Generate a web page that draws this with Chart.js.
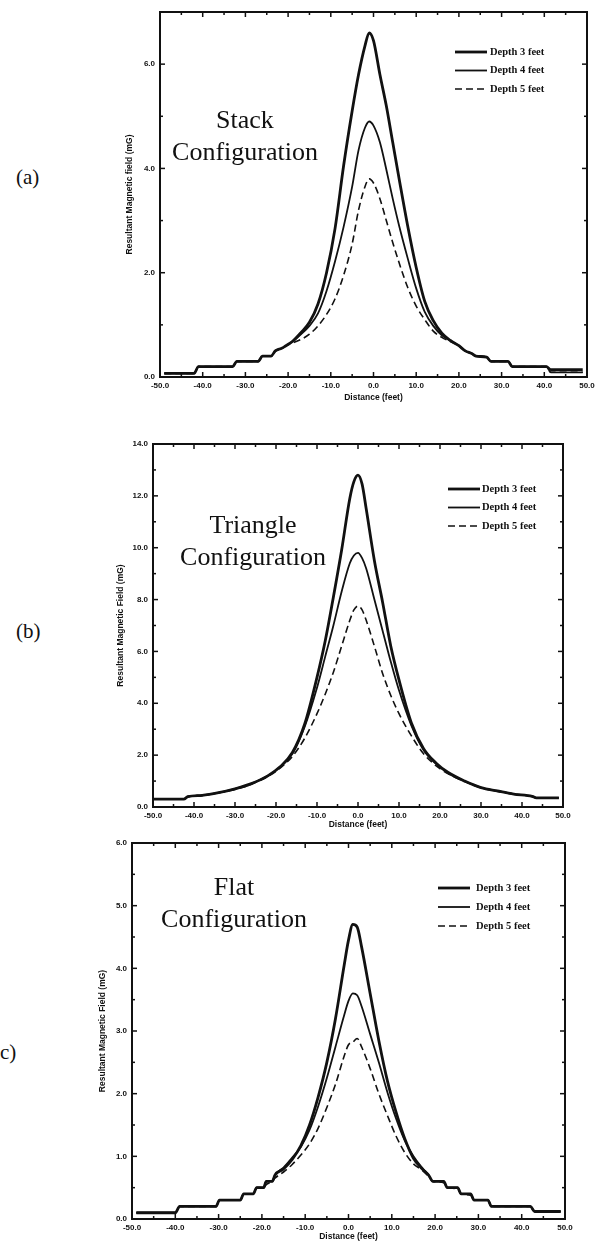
<!DOCTYPE html>
<html>
<head>
<meta charset="utf-8">
<script src="https://cdn.jsdelivr.net/npm/chart.js@4.4.0/dist/chart.umd.min.js"></script>
<style>
  body { margin: 0; background: #fff; width: 606px; height: 1243px; position: relative; overflow: hidden; }
  canvas { position: absolute; }
  .cfg { position: absolute; width: 220px; text-align: center; font-family: "Liberation Serif", serif; font-size: 26px; line-height: 32px; color: #111; }
  .panel { position: absolute; font-family: "Liberation Serif", serif; font-size: 21px; line-height: 24px; color: #111; }
</style>
</head>
<body>
<canvas id="chartA" width="511" height="412" style="left:95px;top:0px"></canvas>
<canvas id="chartB" width="500" height="420" style="left:90px;top:418px"></canvas>
<canvas id="chartC" width="500" height="411" style="left:90px;top:832px"></canvas>

<div class="panel" style="left:16px;top:165px">(a)</div>
<div class="panel" style="left:16px;top:619px">(b)</div>
<div class="panel" style="left:-7px;top:1040px">(c)</div>

<div class="cfg" style="left:135px;top:104px">Stack<br>Configuration</div>
<div class="cfg" style="left:143px;top:509px">Triangle<br>Configuration</div>
<div class="cfg" style="left:124px;top:871px">Flat<br>Configuration</div>

<script>
// shared
const distTicks = [-50, -40, -30, -20, -10, 0, 10, 20, 30, 40, 50];
const seriesNames = ['Depth 3 feet', 'Depth 4 feet', 'Depth 5 feet'];

// (a) Stack configuration
const distA = [-49, -42, -41, -33, -32, -27, -26, -24, -23, -21.5, -20.5, -19, -17, -15, -13, -11, -9, -7, -5, -3.5,
  -2, -1, 0, 1.5, 3, 4.5, 6, 8, 10, 12, 14, 16, 18, 20, 21.5, 23, 24, 26.5, 27.5, 31.5, 32.5, 40.5, 41.5, 49];
const depth3A = [0.07, 0.07, 0.2, 0.2, 0.3, 0.3, 0.4, 0.4, 0.5, 0.55, 0.6, 0.68, 0.85, 1.05, 1.4, 2.0, 2.85, 4.05, 5.1, 5.8,
  6.35, 6.6, 6.45, 5.8, 5.2, 4.5, 3.8, 2.9, 2.1, 1.45, 1.08, 0.84, 0.7, 0.6, 0.5, 0.45, 0.4, 0.38, 0.3, 0.3, 0.2, 0.2, 0.14, 0.14];
const depth4A = [0.07, 0.07, 0.2, 0.2, 0.3, 0.3, 0.4, 0.4, 0.5, 0.55, 0.6, 0.68, 0.82, 0.98, 1.22, 1.65, 2.22, 2.88, 3.65, 4.35,
  4.78, 4.9, 4.82, 4.5, 3.98, 3.42, 2.9, 2.28, 1.7, 1.25, 0.98, 0.8, 0.7, 0.6, 0.5, 0.45, 0.4, 0.38, 0.3, 0.3, 0.2, 0.2, 0.09, 0.09];
const depth5A = [0.07, 0.07, 0.2, 0.2, 0.3, 0.3, 0.4, 0.4, 0.5, 0.55, 0.6, 0.65, 0.72, 0.82, 0.98, 1.2, 1.5, 1.95, 2.55, 3.2,
  3.65, 3.8, 3.72, 3.42, 3.0, 2.58, 2.19, 1.72, 1.36, 1.1, 0.88, 0.76, 0.68, 0.6, 0.5, 0.45, 0.4, 0.38, 0.3, 0.3, 0.2, 0.2, 0.09, 0.09];
const ticksA = [0, 2, 4, 6];

// (b) Triangle configuration
const distB = [-50, -42.5, -41.5, -38, -34, -30, -26, -22, -19, -16, -13, -10, -8, -6, -4, -2, -1, 0, 1, 2,
  4, 6, 8, 10, 13, 16, 19, 22, 26, 30, 34, 38, 42.5, 43.5, 49];
const depth3B = [0.3, 0.3, 0.4, 0.45, 0.55, 0.7, 0.9, 1.2, 1.55, 2.1, 3.2, 5.0, 6.4, 8.1, 9.9, 11.9, 12.55, 12.8, 12.45, 11.5,
  9.5, 7.9, 6.2, 4.9, 3.25, 2.25, 1.7, 1.33, 1.0, 0.75, 0.62, 0.5, 0.41, 0.35, 0.35];
const depth4B = [0.3, 0.3, 0.4, 0.45, 0.55, 0.7, 0.9, 1.2, 1.55, 2.05, 3.1, 4.6, 5.8, 7.0, 8.3, 9.4, 9.7, 9.8, 9.6, 9.2,
  8.0, 6.8, 5.6, 4.5, 3.15, 2.2, 1.67, 1.3, 1.0, 0.75, 0.62, 0.5, 0.41, 0.35, 0.35];
const depth5B = [0.3, 0.3, 0.4, 0.45, 0.55, 0.68, 0.88, 1.18, 1.5, 1.95, 2.65, 3.6, 4.35, 5.2, 6.2, 7.2, 7.6, 7.75, 7.6, 7.2,
  6.2, 5.15, 4.3, 3.6, 2.75, 2.05, 1.6, 1.28, 0.98, 0.74, 0.6, 0.5, 0.41, 0.35, 0.35];
const ticksB = [0, 2, 4, 6, 8, 10, 12, 14];

// (c) Flat configuration
const distC = [-49, -40, -39, -30.6, -29.8, -25, -24.2, -22, -21.2, -19.6, -19, -17.6, -17, -15, -13, -11, -9, -7, -5, -3,
  -1, 0, 1, 2, 3, 5, 7, 9, 11, 13, 15, 17, 18.5, 19.5, 22, 22.8, 25.2, 26, 28.2, 29, 32.2, 33, 42, 43, 49];
const depth3C = [0.1, 0.1, 0.2, 0.2, 0.3, 0.3, 0.4, 0.4, 0.5, 0.5, 0.6, 0.6, 0.7, 0.8, 0.95, 1.17, 1.5, 1.95, 2.5, 3.2,
  4.05, 4.45, 4.7, 4.66, 4.35, 3.6, 2.85, 2.2, 1.7, 1.28, 0.97, 0.8, 0.7, 0.6, 0.6, 0.5, 0.5, 0.4, 0.4, 0.3, 0.3, 0.2, 0.2, 0.12, 0.12];
const depth4C = [0.1, 0.1, 0.2, 0.2, 0.3, 0.3, 0.4, 0.4, 0.5, 0.5, 0.6, 0.6, 0.7, 0.82, 0.98, 1.15, 1.42, 1.8, 2.25, 2.75,
  3.25, 3.48, 3.6, 3.57, 3.4, 2.95, 2.5, 2.02, 1.6, 1.25, 1.0, 0.82, 0.7, 0.6, 0.6, 0.5, 0.5, 0.4, 0.4, 0.3, 0.3, 0.2, 0.2, 0.12, 0.12];
const depth5C = [0.1, 0.1, 0.2, 0.2, 0.3, 0.3, 0.4, 0.4, 0.5, 0.5, 0.55, 0.6, 0.65, 0.75, 0.87, 1.02, 1.2, 1.45, 1.78, 2.15,
  2.6, 2.78, 2.82, 2.88, 2.75, 2.4, 2.0, 1.65, 1.32, 1.06, 0.88, 0.78, 0.68, 0.6, 0.58, 0.5, 0.48, 0.4, 0.38, 0.3, 0.3, 0.2, 0.2, 0.12, 0.12];
const ticksC = [0, 1, 2, 3, 4, 5, 6];

const ink = '#111';
const tickFont = { family: '"Liberation Sans", Arial, sans-serif', size: 8, weight: 'bold' };
const titleFont = { family: '"Liberation Sans", Arial, sans-serif', size: 8.5, weight: 'bold' };

// frame round the plot plus inward tick marks on all four sides
const frameTicks = {
  id: 'frameTicks',
  afterDraw(chart, args, opts) {
    const { ctx, chartArea: a, scales: { x, y } } = chart;
    ctx.save();
    ctx.strokeStyle = ink;
    ctx.lineWidth = 1.5;
    const seg = (x0, y0, x1, y1) => { ctx.beginPath(); ctx.moveTo(x0, y0); ctx.lineTo(x1, y1); ctx.stroke(); };
    for (let v = x.min + opts.xStep; v < x.max; v += opts.xStep) {
      const px = x.getPixelForValue(v);
      const len = Math.abs(v % 10) < 1e-6 ? 5 : 3;
      seg(px, a.bottom, px, a.bottom - len);
      seg(px, a.top, px, a.top + len);
    }
    for (let v = y.min + opts.yStep; v < y.max - 1e-6; v += opts.yStep) {
      const py = y.getPixelForValue(v);
      const len = opts.yMajor.includes(Math.round(v * 100) / 100) ? 5 : 3;
      seg(a.left, py, a.left + len, py);
      seg(a.right, py, a.right - len, py);
    }
    ctx.lineWidth = 2;
    ctx.strokeRect(a.left, a.top, a.right - a.left, a.bottom - a.top);
    ctx.restore();
  }
};

// legend drawn inside the plot, upper right
const boxLegend = {
  id: 'boxLegend',
  afterDraw(chart, args, opts) {
    const { ctx, chartArea: a } = chart;
    ctx.save();
    chart.data.datasets.forEach((ds, i) => {
      const y = a.top + opts.y + i * opts.gap;
      const x0 = a.left + opts.x;
      ctx.beginPath();
      ctx.setLineDash(ds.borderDash || []);
      ctx.lineWidth = ds.borderWidth;
      ctx.strokeStyle = ds.borderColor;
      ctx.moveTo(x0, y);
      ctx.lineTo(x0 + 32, y);
      ctx.stroke();
      ctx.setLineDash([]);
      ctx.fillStyle = ink;
      ctx.font = 'bold 10.5px "Liberation Serif", serif';
      ctx.textBaseline = 'middle';
      ctx.fillText(ds.label, x0 + 32 + opts.textGap, y);
    });
    ctx.restore();
  }
};

function makeChart(id, o) {
  const styles = [
    { borderWidth: 2.8, borderDash: [] },
    { borderWidth: 1.8, borderDash: [] },
    { borderWidth: 1.6, borderDash: [7, 4] }
  ];
  return new Chart(document.getElementById(id), {
    type: 'line',
    data: {
      datasets: o.series.map((vals, i) => ({
        label: seriesNames[i],
        data: o.dist.map((d, k) => ({ x: d, y: vals[k] })),
        borderColor: ink,
        borderWidth: styles[i].borderWidth,
        borderDash: styles[i].borderDash,
        pointRadius: 0,
        cubicInterpolationMode: 'monotone',
        fill: false
      }))
    },
    options: {
      responsive: false,
      animation: false,
      events: [],
      layout: { padding: { left: 0, top: o.padTop, right: o.padRight, bottom: 0 } },
      plugins: {
        legend: { display: false },
        tooltip: { enabled: false },
        frameTicks: { xStep: 5, yStep: o.yMinor, yMajor: o.yTicks },
        boxLegend: o.legend
      },
      scales: {
        x: {
          type: 'linear', min: -50, max: 50,
          afterBuildTicks: s => { s.ticks = distTicks.map(v => ({ value: v })); },
          afterFit: s => { s.height = o.xH; s.paddingLeft = 0; s.paddingRight = 0; },
          grid: { display: false, drawTicks: false },
          border: { display: false },
          ticks: { font: tickFont, color: ink, padding: 4, maxRotation: 0, autoSkip: false, callback: v => v.toFixed(1) },
          title: { display: true, text: 'Distance (feet)', font: titleFont, color: ink, padding: { top: 0, bottom: o.xTitlePad } }
        },
        y: {
          type: 'linear', min: 0, max: o.yMax,
          afterBuildTicks: s => { s.ticks = o.yTicks.map(v => ({ value: v })); },
          afterFit: s => { s.width = o.yW; s.paddingTop = 0; s.paddingBottom = 0; },
          grid: { display: false, drawTicks: false },
          border: { display: false },
          ticks: { font: tickFont, color: ink, padding: 5, autoSkip: false, callback: v => v.toFixed(1) },
          title: { display: true, text: o.yTitle, font: titleFont, color: ink, padding: { top: o.yTitlePad, bottom: 0 } }
        }
      }
    },
    plugins: [frameTicks, boxLegend]
  });
}

makeChart('chartA', {
  dist: distA, series: [depth3A, depth4A, depth5A],
  yMax: 7, yTicks: ticksA, yMinor: 1,
  padTop: 12, padRight: 19, yW: 65, xH: 35,
  yTitle: 'Resultant Magnetic field (mG)', yTitlePad: 29.9, xTitlePad: 8.9,
  legend: { x: 295, y: 40, gap: 18.5, textGap: 3 }
});

makeChart('chartB', {
  dist: distB, series: [depth3B, depth4B, depth5B],
  yMax: 14, yTicks: ticksB, yMinor: 1,
  padTop: 26, padRight: 27, yW: 63, xH: 31,
  yTitle: 'Resultant Magnetic Field (mG)', yTitlePad: 25.9, xTitlePad: 7.9,
  legend: { x: 295, y: 45, gap: 18.5, textGap: 2 }
});

makeChart('chartC', {
  dist: distC, series: [depth3C, depth4C, depth5C],
  yMax: 6, yTicks: ticksC, yMinor: 0.5,
  padTop: 11, padRight: 25, yW: 42, xH: 24,
  yTitle: 'Resultant Magnetic Field (mG)', yTitlePad: 7.9, xTitlePad: 0.9,
  legend: { x: 306, y: 45, gap: 19, textGap: 6 }
});
</script>
</body>
</html>
